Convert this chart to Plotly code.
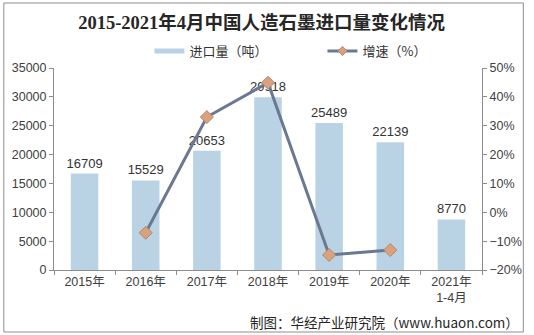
import plotly.graph_objects as go

# Import volume of synthetic graphite (tonnes) and year-on-year growth (%)
categories = ["2015年", "2016年", "2017年", "2018年", "2019年", "2020年", "2021年<br>1-4月"]
volume = [16709, 15529, 20653, 29918, 25489, 22139, 8770]
growth_categories = ["2016年", "2017年", "2018年", "2019年", "2020年"]
growth = [-7.1, 33.0, 44.9, -14.8, -13.1]

W, H = 534, 335
L, R, T, B = 54, 45, 68, 65
PW, PH = W - L - R, H - T - B

def px_x(x):
    return (x - L) / PW

def px_y(y):
    return (H - B - y) / PH

BAR = "#b9d3e5"
LINE = "#6b7891"
MARK = "#d9a27e"
MARK_EDGE = "#b98566"
SANS = "Liberation Sans, Arial, Noto Sans CJK SC"
CJK = "Noto Sans CJK SC, Liberation Sans"

fig = go.Figure()

fig.add_trace(go.Bar(
    x=categories, y=volume, name="进口量（吨）",
    marker=dict(color=BAR, line=dict(width=0)),
    width=0.45,
    text=[str(v) for v in volume], textposition="outside",
    constraintext="none",
    textfont=dict(family=SANS, size=13, color="#333333"),
    cliponaxis=False, showlegend=False,
))

fig.add_trace(go.Scatter(
    x=growth_categories, y=growth, name="增速（%）", yaxis="y2",
    mode="lines+markers",
    line=dict(color=LINE, width=3),
    marker=dict(symbol="diamond", size=10, color=MARK,
                line=dict(color=MARK_EDGE, width=1)),
    cliponaxis=False, showlegend=False,
))

# legend swatches: thick line for the bars, thin line with small diamond for growth
fig.add_trace(go.Scatter(
    x=[None], y=[None], mode="lines", name="进口量（吨）",
    line=dict(color=BAR, width=5),
))
fig.add_trace(go.Scatter(
    x=[None], y=[None], mode="lines+markers", name="增速（%）",
    line=dict(color=LINE, width=3),
    marker=dict(symbol="diamond", size=7, color=MARK,
                line=dict(color=MARK_EDGE, width=1)),
))

axis_line = dict(showline=True, linecolor="#8c8c8c", linewidth=1,
                 ticks="outside", ticklen=4, tickcolor="#8c8c8c",
                 showgrid=False, zeroline=False)

fig.update_layout(
    width=W, height=H,
    margin=dict(l=L, r=R, t=T, b=B),
    paper_bgcolor="white", plot_bgcolor="white",
    title=dict(
        text="<b>2015-2021年4月中国人造石墨进口量变化情况</b>",
        x=0.49, xanchor="center", y=1 - 23 / H, yanchor="middle",
        font=dict(family="Liberation Serif, Noto Sans CJK SC", size=18.5, color="#262626"),
    ),
    legend=dict(
        orientation="h", x=px_x(151), xanchor="left",
        y=px_y(51), yanchor="middle",
        font=dict(family=CJK, size=13, color="#333333"),
        bgcolor="rgba(0,0,0,0)", itemwidth=30,
        entrywidth=128, entrywidthmode="pixels",
        itemsizing="trace",
    ),
    bargap=0.55,
    xaxis=dict(
        type="category", range=[-0.5, 6.5],
        tickson="boundaries",
        tickfont=dict(family=SANS, size=12.5, color="#404040"),
        **axis_line,
    ),
    yaxis=dict(
        range=[0, 35000], dtick=5000, tickformat="d",
        tickfont=dict(family=SANS, size=12.5, color="#404040"),
        **axis_line,
    ),
    yaxis2=dict(
        overlaying="y", side="right",
        range=[-20, 50], dtick=10, ticksuffix="%",
        tickfont=dict(family=SANS, size=12.5, color="#404040"),
        **axis_line,
    ),
    annotations=[
        dict(
            text="制图：华经产业研究院（www.huaon.com）",
            xref="paper", yref="paper",
            x=px_x(529), y=px_y(322), xanchor="right", yanchor="middle",
            showarrow=False,
            font=dict(family=CJK, size=13.5, color="#262626"),
        ),
    ],
    shapes=[
        dict(type="rect", xref="paper", yref="paper",
             x0=px_x(3), x1=px_x(531), y0=px_y(332), y1=px_y(3),
             line=dict(color="#8c8c8c", width=1), fillcolor="rgba(0,0,0,0)",
             layer="below"),
    ],
)

fig.write_html("out.html")
